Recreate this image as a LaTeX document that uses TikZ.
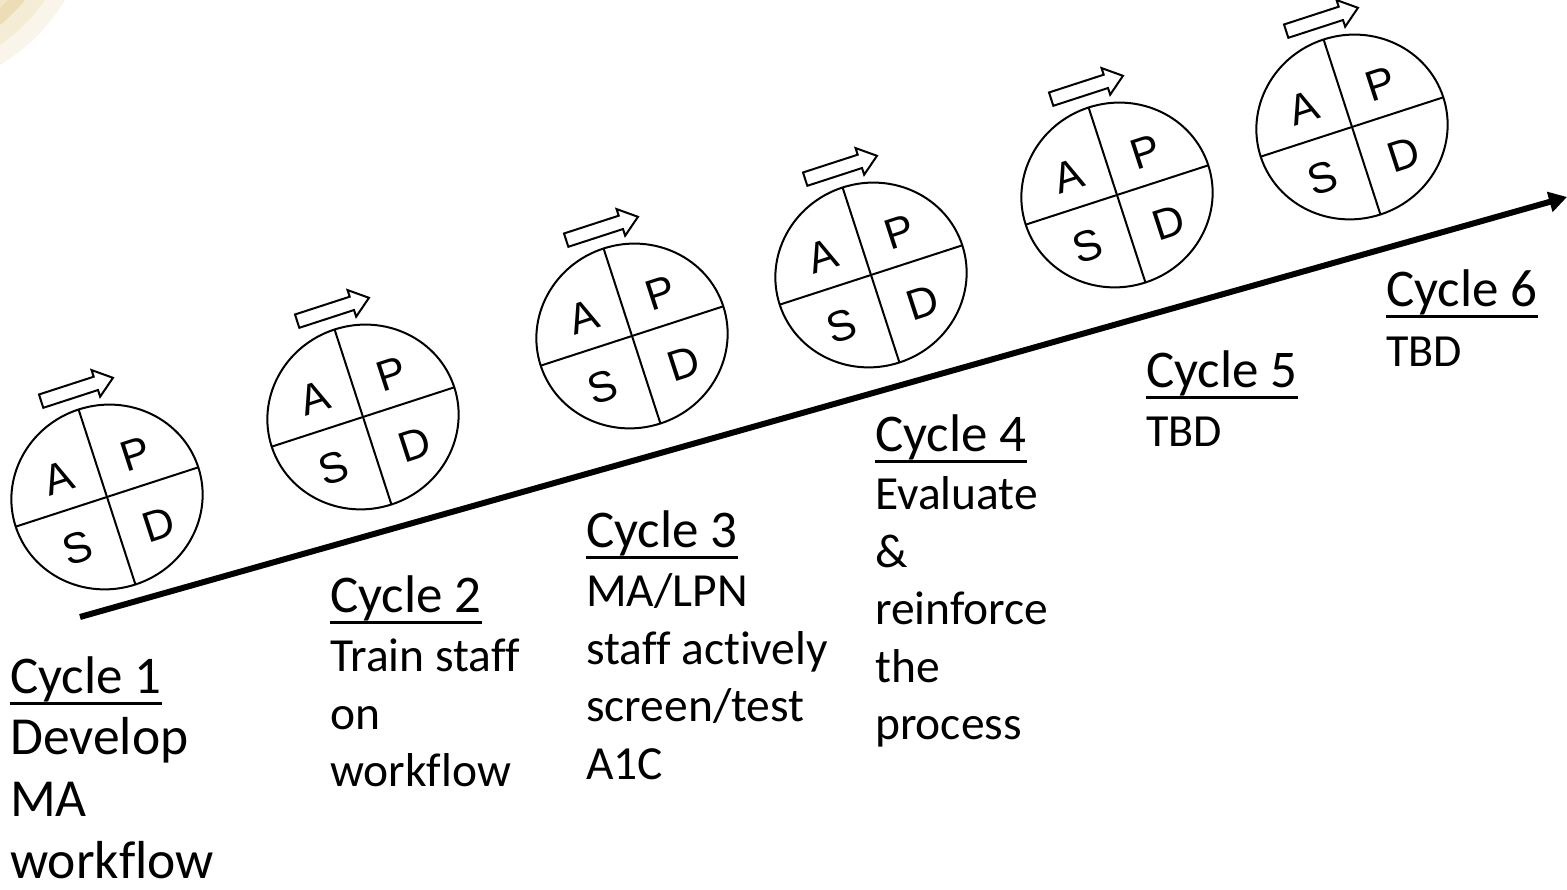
\documentclass[tikz,border=0pt]{standalone}
\usepackage{fontspec}
\setmainfont{Carlito}[Ligatures=CommonOff]
\newfontfamily\wheelfont{Liberation Sans}
\usetikzlibrary{arrows.meta}

% underlined cycle heading
\newcommand\cycletitle[1]{\setbox0\hbox{#1}\rlap{\rule[-11.5pt]{\wd0}{3pt}}\box0}

\tikzset{
  wheel/.style={draw=black, line width=2pt},
  letter/.style={font=\wheelfont\fontsize{43}{43}\selectfont, transform shape, inner sep=0pt},
  turn/.style={draw=black, line width=2pt, fill=white, line join=miter},
  title/.style={anchor=base west, inner sep=0pt, font=\fontsize{53}{62}\selectfont},
  % multi-line bodies are anchored at the baseline of their last line
  body/.style={anchor=base west, inner sep=0pt, align=left},
  trend/.style={line width=6pt, -{Triangle[length=18pt,width=20pt]}},
  pics/pdsa/.style={code={
    \begin{scope}[rotate=18]
      \draw[wheel] (0,0) ellipse [x radius=96, y radius=92];
      \draw[wheel] (-96,0) -- (96,0);
      \draw[wheel] (0,-92) -- (0,92);
      \node[letter] (-A) at (-40,33) {A};
      \node[letter] (-P) at (40,32) {P};
      \node[letter] (-S) at (-44,-39) {S};
      \node[letter] (-D) at (41,-42) {D};
      \draw[turn] (-33,104.5) -- (24.5,104.5) -- (24.5,97.5) -- (42.5,111.5)
                  -- (24.5,125.5) -- (24.5,118.5) -- (-33,118.5) -- cycle;
    \end{scope}
  }}
}

\begin{document}
\begin{tikzpicture}[x=1pt,y=1pt]
  \useasboundingbox (0,0) rectangle (1567,890);

  % corner ornament
  \begin{scope}
    \clip (0,0) rectangle (1567,890);
    \fill[color={rgb,255:red,250;green,245;blue,234}] (-100,990) circle [radius=193];
    \fill[color={rgb,255:red,245;green,236;blue,214}] (-100,990) circle [radius=176];
    \fill[color={rgb,255:red,236;green,221;blue,183}] (-100,990) circle [radius=160];
    \fill[color={rgb,255:red,242;green,230;blue,200}] (-100,990) circle [radius=147];
  \end{scope}

  % rising trend line
  \coordinate (start) at (80,273);
  \coordinate (goal) at (1567,693);
  \draw[trend] (start) -- (goal);

  % PDSA wheels
  \pic (w1) at (107,393) {pdsa};
  \pic (w2) at (363,473) {pdsa};
  \pic (w3) at (632,554) {pdsa};
  \pic (w4) at (871,615) {pdsa};
  \pic (w5) at (1117,695) {pdsa};
  \pic (w6) at (1352,763) {pdsa};

  % cycle labels
  \node[title] (t1) at (10,196) {\cycletitle{Cycle 1}};
  \node[body, font=\fontsize{53.5}{62}\selectfont] (b1) at (10,11) {Develop\\MA\\workflow};

  \node[title] (t2) at (330,277) {\cycletitle{Cycle 2}};
  \node[body, font=\fontsize{47.5}{57.5}\selectfont] (b2) at (330,103) {Train staff\\on\\workflow};

  \node[title] (t3) at (586,342) {\cycletitle{Cycle 3}};
  \node[body, font=\fontsize{47.5}{57.5}\selectfont] (b3) at (586,110.5) {MA/LPN\\staff actively\\screen/test\\A1C};

  \node[title] (t4) at (875,438) {\cycletitle{Cycle 4}};
  \node[body, font=\fontsize{47.5}{57.5}\selectfont] (b4) at (875,150) {Evaluate\\\&\\reinforce\\the\\process};

  \node[title] (t5) at (1146,502) {\cycletitle{Cycle 5}};
  \node[body, font=\fontsize{46}{57.5}\selectfont] (b5) at (1146,443) {TBD};

  \node[title] (t6) at (1386,583) {\cycletitle{Cycle 6}};
  \node[body, font=\fontsize{46}{57.5}\selectfont] (b6) at (1386,523) {TBD};
\end{tikzpicture}
\end{document}
